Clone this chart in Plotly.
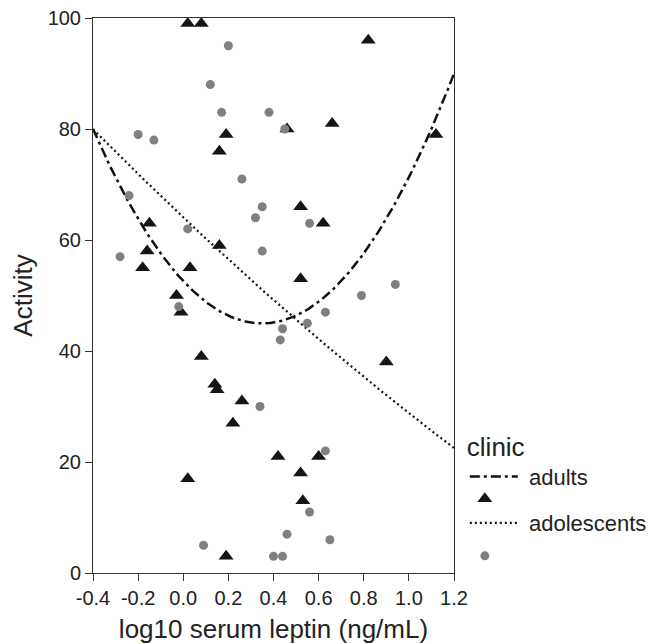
import numpy as np
import plotly.graph_objects as go

# adults (triangles)
adults_x = [0.02, 0.08, 0.19, 0.16, 0.82, 0.66, 0.46, 1.12, -0.15, -0.16, -0.18, 0.16, 0.03,
            -0.03, -0.01, 0.08, 0.14, 0.15, 0.26, 0.22, 0.02, 0.19, 0.52, 0.62, 0.52, 0.90,
            0.42, 0.60, 0.52, 0.53]
adults_y = [99, 99, 79, 76, 96, 81, 80, 79, 63, 58, 55, 59, 55,
            50, 47, 39, 34, 33, 31, 27, 17, 3, 66, 63, 53, 38,
            21, 21, 18, 13]

# adolescents (circles)
adol_x = [0.20, 0.12, 0.17, 0.38, -0.20, -0.13, 0.26, -0.24, 0.45, 0.35, 0.32, 0.02, -0.28,
          0.35, -0.02, 0.56, 0.94, 0.79, 0.63, 0.55, 0.44, 0.43, 0.34, 0.09, 0.63, 0.56,
          0.46, 0.65, 0.40, 0.44]
adol_y = [95, 88, 83, 83, 79, 78, 71, 68, 80, 66, 64, 62, 57,
          58, 48, 63, 52, 50, 47, 45, 44, 42, 30, 5, 22, 11,
          7, 6, 3, 3]

# fitted quadratic coefficients (c2, c1, c0)
adults_fit = [62.3, -43.6, 52.6]
adol_fit = [3.2, -38.46, 64.07]

x_ticks = [-0.4, -0.2, 0.0, 0.2, 0.4, 0.6, 0.8, 1.0, 1.2]
x_tick_labels = ["-0.4", "-0.2", "0.0", "0.2", "0.4", "0.6", "0.8", "1.0", "1.2"]
y_ticks = [0, 20, 40, 60, 80, 100]

xs = np.linspace(-0.4, 1.2, 200)
fig = go.Figure()

fig.add_trace(go.Scatter(x=xs, y=np.polyval(adults_fit, xs), mode="lines",
                         name="\u00a0adults", legend="legend",
                         line=dict(color="#111111", width=2.5, dash="10px,4px,3px,4px")))
fig.add_trace(go.Scatter(x=adults_x, y=adults_y, mode="markers", name=" ", legend="legend2",
                         marker=dict(symbol="triangle-up", size=13, color="#151515")))
fig.add_trace(go.Scatter(x=xs, y=np.polyval(adol_fit, xs), mode="lines",
                         name="\u00a0adolescents", legend="legend3",
                         line=dict(color="#111111", width=2.2, dash="2px,3px")))
fig.add_trace(go.Scatter(x=adol_x, y=adol_y, mode="markers", name=" ", legend="legend4",
                         marker=dict(symbol="circle", size=9, color="#808080")))

axis_common = dict(showline=True, linecolor="#333333", linewidth=1, mirror=True,
                   ticks="outside", ticklen=7, tickcolor="#333333", showgrid=False,
                   zeroline=False, tickfont=dict(size=20, color="#222222"),
                   ticklabeloverflow="allow", automargin=False)

leg_common = dict(xanchor="left", font=dict(size=22), bgcolor="rgba(0,0,0,0)",
                  tracegroupgap=0)

fig.update_layout(
    width=665, height=644,
    margin=dict(l=85, r=219, t=10, b=79, autoexpand=False),
    paper_bgcolor="white", plot_bgcolor="white",
    font=dict(family="Liberation Sans, Arial, sans-serif", color="#222222"),
    xaxis=dict(range=[-0.4, 1.2], tickvals=x_ticks, ticktext=x_tick_labels,
               title=dict(text="log10 serum leptin (ng/mL)", font=dict(size=26), standoff=11),
               **axis_common),
    yaxis=dict(range=[0, 100], tickvals=y_ticks,
               title=dict(text="Activity", font=dict(size=26), standoff=14),
               **axis_common),
    legend=dict(x=1.03, y=0.2724, yanchor="top", itemwidth=48,
                title=dict(text="clinic", font=dict(size=26)), **leg_common),
    legend2=dict(x=1.03, y=0.1333, yanchor="middle", itemwidth=30, **leg_common),
    legend3=dict(x=1.03, y=0.0901, yanchor="middle", itemwidth=48, **leg_common),
    legend4=dict(x=1.03, y=0.0306, yanchor="middle", itemwidth=30, **leg_common),
    showlegend=True,
)

fig.write_html("out.html")
